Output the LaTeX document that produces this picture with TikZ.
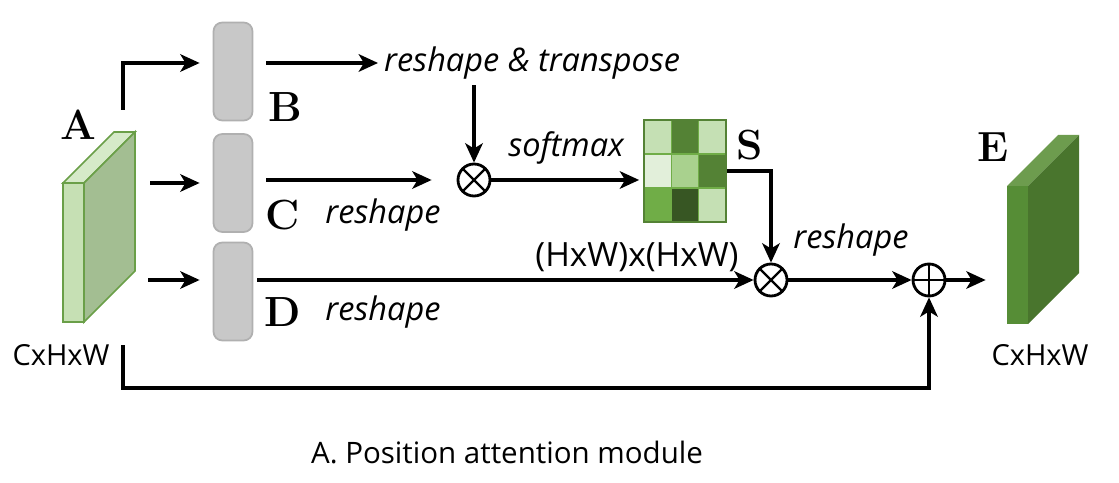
\documentclass[tikz,border=0pt]{standalone}
\usepackage{fontspec}
\setsansfont{Open Sans}
\usepackage{tikz}
\usetikzlibrary{arrows.meta, positioning, calc}
\definecolor{mapFront}{HTML}{C6E0B4}
\definecolor{mapTop}{HTML}{D6EAC9}
\definecolor{mapSide}{HTML}{A3BE92}
\definecolor{mapEdge}{HTML}{6A9F48}
\definecolor{outFront}{HTML}{568D36}
\definecolor{outTop}{HTML}{6D9C4E}
\definecolor{outSide}{HTML}{49752D}
\definecolor{boxGray}{HTML}{C8C8C8}
\definecolor{boxEdge}{HTML}{B0B0B0}
\definecolor{cellPale}{HTML}{E2EFDA}
\definecolor{cellLight}{HTML}{C5E0B4}
\definecolor{cellMid}{HTML}{A9D18E}
\definecolor{cellGreen}{HTML}{70AD47}
\definecolor{cellDark}{HTML}{548235}
\definecolor{cellDeep}{HTML}{375623}

\begin{document}
\begin{tikzpicture}[
    >={Stealth[length=11pt,width=10pt,inset=3pt]},
    arr/.style={->, line width=1.8pt},
    blk/.style={rounded corners=5pt, fill=boxGray, draw=boxEdge, line width=1pt,
      minimum width=0.78cm, minimum height=1.96cm},
    opnode/.style={circle, draw, line width=1.6pt, minimum size=0.64cm, inner sep=0pt},
    mulop/.style={opnode, path picture={\draw[line width=1.3pt]
      (path picture bounding box.north west) -- (path picture bounding box.south east)
      (path picture bounding box.north east) -- (path picture bounding box.south west);}},
    addop/.style={opnode, path picture={\draw[line width=1.3pt]
      (path picture bounding box.north) -- (path picture bounding box.south)
      (path picture bounding box.west) -- (path picture bounding box.east);}},
    lbl/.style={font=\fontsize{24}{24}\selectfont\bfseries},
    txt/.style={font=\sffamily\itshape\fontsize{18.5}{18.5}\selectfont},
    dim/.style={font=\sffamily\fontsize{16.5}{16.5}\selectfont}]
  \useasboundingbox (0,0) rectangle (22.38,9.64);

  % Input feature map A
  \draw[fill=mapFront, draw=mapEdge, line width=1pt] (1.26,3.20) rectangle (1.68,5.98);
  \draw[fill=mapTop, draw=mapEdge, line width=1pt] (1.26,5.98) -- (1.68,5.98) -- (2.70,7.00) -- (2.28,7.00) -- cycle;
  \draw[fill=mapSide, draw=mapEdge, line width=1pt] (1.68,5.98) -- (2.70,7.00) -- (2.70,4.22) -- (1.68,3.20) -- cycle;
  \node[minimum width=1.44cm, minimum height=3.80cm, inner sep=0pt] (featA) at (1.98,5.10) {};
  \node[lbl] (lblA) at (1.56,7.14) {A};
  \node[dim] (dimA) at (1.22,2.54) {CxHxW};
  \coordinate (aTop) at (2.46,7.44);
  \coordinate (aBot) at (2.46,2.74);

  % Convolution blocks
  \node[blk] (boxB) at (4.66,8.21) {};
  \node[blk] (boxC) at (4.66,5.98) {};
  \node[blk] (boxD) at (4.66,3.81) {};
  \node[lbl] (lblB) at (5.70,7.50) {B};
  \node[lbl] (lblC) at (5.66,5.34) {C};
  \node[lbl] (lblD) at (5.66,3.40) {D};
  \coordinate (bRow) at ([yshift=0.17cm]boxB.west);
  \coordinate (cRow) at ([yshift=0.06cm]boxC.east);
  \coordinate (dRow) at ([yshift=0.23cm]boxD.west);

  % Texts on the branches
  \node[txt, anchor=west] (tRT) at (7.56,8.38) {reshape \& transpose};
  \node[txt] (tSoft) at (11.32,6.68) {softmax};
  \node[txt] (tResC) at (7.66,5.34) {reshape};
  \node[txt] (tResD) at (7.66,3.40) {reshape};
  \node[dim, font=\sffamily\fontsize{19}{19}\selectfont] (tHW) at (12.74,4.50) {(HxW)x(HxW)};
  \node[txt] (tResS) at (17.02,4.84) {reshape};

  % Operators
  \node[mulop] (mulBC) at (9.48,6.04) {};
  \node[mulop] (mulS) at (15.42,4.04) {};
  \node[addop] (addE) at (18.58,4.04) {};

  % Attention map S
  \foreach \col/\row/\clr in {0/0/cellLight, 1/0/cellDark, 2/0/cellLight,
                              0/1/cellPale, 1/1/cellMid, 2/1/cellDark,
                              0/2/cellGreen, 1/2/cellDeep, 2/2/cellLight}
    \fill[\clr] ({12.88+0.5467*\col},{7.24-0.68*\row}) rectangle ++(0.5467,-0.68);
  \foreach \k in {1,2} {
    \draw[cellGreen, line width=0.6pt] ({12.88+0.5467*\k},5.20) -- ++(0,2.04);
    \draw[cellGreen, line width=0.6pt] (12.88,{7.24-0.68*\k}) -- ++(1.64,0);
  }
  \node[draw=cellDark, line width=1pt, minimum width=1.64cm, minimum height=2.04cm, inner sep=0pt] (matS) at (13.70,6.22) {};
  \node[lbl] (lblS) at (15.00,6.74) {S};

  % Output feature map E
  \fill[outFront] (20.14,3.16) rectangle (20.56,5.92);
  \fill[outTop] (20.14,5.92) -- (20.56,5.92) -- (21.58,6.94) -- (21.16,6.94) -- cycle;
  \fill[outSide] (20.56,5.92) -- (21.58,6.94) -- (21.58,4.18) -- (20.56,3.16) -- cycle;
  \node[minimum width=1.44cm, minimum height=3.78cm, inner sep=0pt] (featE) at (20.86,5.05) {};
  \node[lbl] (lblE) at (19.86,6.70) {E};
  \node[dim] (dimE) at (20.80,2.54) {CxHxW};

  % Connectors
  \draw[arr, shorten >=0.26cm] (aTop) |- (bRow);
  \draw[arr, shorten <=0.3cm, shorten >=0.26cm] (featA.east |- boxC.west) -- (boxC.west);
  \draw[arr, shorten <=0.26cm, shorten >=0.26cm] (featA.east |- dRow) -- (dRow);
  \draw[arr, shorten <=0.26cm] (boxB.east |- bRow) -- (tRT.west);
  \draw[arr] (mulBC |- tRT.south) -- (mulBC.north);
  \draw[arr, shorten <=0.26cm, shorten >=0.5cm] (cRow) -- (mulBC.west);
  \draw[arr, shorten >=0.08cm] (mulBC.east) -- (mulBC -| matS.west);
  \draw[arr] (matS.east) -| (mulS.north);
  \draw[arr, shorten <=0.08cm] (boxD.east |- dRow) -- (mulS.west);
  \draw[arr] (mulS.east) -- (addE.west);
  \draw[arr, shorten >=0.42cm] (addE.east) -- (addE -| featE.west);
  \draw[arr] (aBot) -- ++(0,-0.86) -| (addE.south);

  % Caption
  \node[font=\sffamily\fontsize{16.8}{16.8}\selectfont] (caption) at (10.14,0.60) {A. Position attention module};
\end{tikzpicture}
\end{document}
